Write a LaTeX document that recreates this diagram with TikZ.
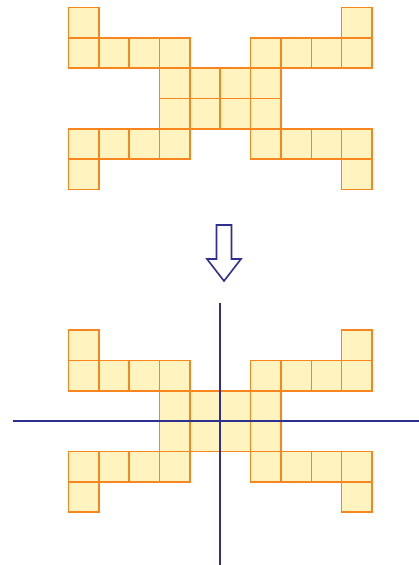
\documentclass[tikz,border=0pt]{standalone}
\definecolor{cellorange}{HTML}{F7861E}
\definecolor{cellfill}{HTML}{FFF4BF}
\definecolor{axisblue}{HTML}{2E2F8E}
\tikzset{
  cell/.style={draw=cellorange, fill=cellfill, line width=1.6pt},
  axisline/.style={draw=axisblue, line width=1.6pt},
  hollowarrow/.style={draw=axisblue, fill=white, line width=1.6pt, line join=miter},
}
\newcommand{\shapecells}[3]{%
  % #1 x origin, #2 y origin, #3 cell size
  \foreach \c/\r in {0/0,9/0,
                     0/1,1/1,2/1,3/1,6/1,7/1,8/1,9/1,
                     3/2,4/2,5/2,6/2,
                     3/3,4/3,5/3,6/3,
                     0/4,1/4,2/4,3/4,6/4,7/4,8/4,9/4,
                     0/5,9/5}
    \path[cell] ({#1+\c*#3},{#2+\r*#3}) rectangle ++(#3,#3);
}
\begin{document}
\begin{tikzpicture}[x=1pt,y=-1pt]
\useasboundingbox (0,0) rectangle (419,565);
% top figure
\shapecells{68.5}{7.5}{30.35}
% bottom figure
\shapecells{68.5}{330}{30.35}
% arrow
\path[hollowarrow] (216.5,225) -- (231.5,225) -- (231.5,259) -- (241,259)
  -- (224,281) -- (207,259) -- (216.5,259) -- cycle;
% axes
\coordinate (hl) at (13,421);
\coordinate (hr) at (419,421);
\coordinate (vt) at (220.25,303);
\coordinate (vb) at (220.25,565);
\draw[axisline] (hl) -- (hr);
\draw[axisline] (vt) -- (vb);
\end{tikzpicture}
\end{document}
